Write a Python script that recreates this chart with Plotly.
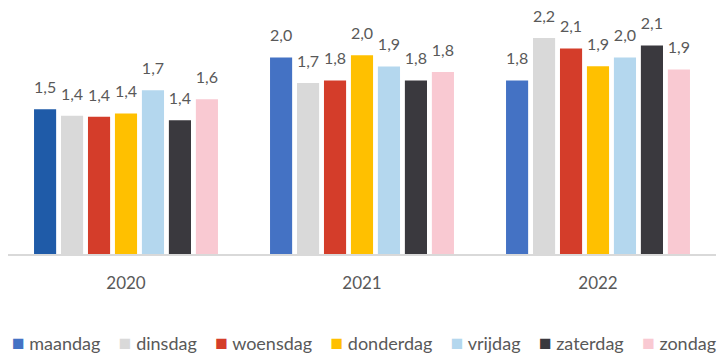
import plotly.graph_objects as go

years = ["2020", "2021", "2022"]
days = ["maandag", "dinsdag", "woensdag", "donderdag", "vrijdag", "zaterdag", "zondag"]

# average value per weekday, per year
maandag = [1.466, 1.989, 1.756]
dinsdag = [1.399, 1.732, 2.187]
woensdag = [1.388, 1.756, 2.080]
donderdag = [1.423, 2.012, 1.901]
vrijdag = [1.658, 1.898, 1.989]
zaterdag = [1.355, 1.756, 2.110]
zondag = [1.567, 1.843, 1.868]

series = [maandag, dinsdag, woensdag, donderdag, vrijdag, zaterdag, zondag]
colors = [
    ["#1f5ba8", "#4472c4", "#4472c4"],
    "#d9d9d9",
    "#d43d2a",
    "#ffc000",
    "#b4d7ee",
    "#3a393e",
    "#f9c9d2",
]
legend_colors = ["#4472c4", "#d9d9d9", "#d43d2a", "#ffc000", "#b4d7ee", "#3a393e", "#f9c9d2"]

font_family = "Lato, 'Open Sans', sans-serif"
text_grey = "#595959"
GAP = 0.2

fig = go.Figure()
for name, vals, col in zip(days, series, colors):
    fig.add_trace(go.Bar(
        name=name,
        x=years,
        y=vals,
        marker=dict(color=col, line=dict(width=0)),
        showlegend=False,
        hovertemplate="%{x} " + name + ": %{y:.1f}<extra></extra>",
    ))

# value labels, grouped the same way as the bars and lifted a little above them
for name, vals in zip(days, series):
    fig.add_trace(go.Scatter(
        name=name,
        x=years,
        y=vals,
        mode="markers+text",
        marker=dict(size=18, color="rgba(0,0,0,0)"),
        texttemplate="%{y:.1f}",
        textposition="top center",
        textfont=dict(size=16, color=text_grey, family=font_family),
        cliponaxis=False,
        showlegend=False,
        hoverinfo="skip",
    ))

# compact one-line legend: coloured square followed by the weekday name
legend_text = "&nbsp;&nbsp;&nbsp;&nbsp;".join(
    f"<span style='color:{c};font-size:21px'>■</span>&nbsp;{n}"
    for n, c in zip(days, legend_colors)
)
fig.add_annotation(
    text=legend_text,
    xref="paper",
    yref="paper",
    x=0.503,
    y=-0.356,
    xanchor="center",
    yanchor="middle",
    showarrow=False,
    font=dict(size=18, color=text_grey, family=font_family),
)

fig.update_layout(
    width=721,
    height=353,
    margin=dict(l=8, r=5, t=7, b=99, autoexpand=False),
    paper_bgcolor="white",
    plot_bgcolor="white",
    barmode="group",
    bargap=GAP,
    bargroupgap=0.18,
    scattermode="group",
    scattergap=GAP,
    separators=",.",
    showlegend=False,
    font=dict(family=font_family, color=text_grey),
    xaxis=dict(
        showgrid=False,
        showline=True,
        linecolor="#d9d9d9",
        linewidth=2,
        ticks="",
        tickfont=dict(size=17, color=text_grey, family=font_family),
        ticklabelstandoff=13,
    ),
    yaxis=dict(
        range=[0, 2.5],
        visible=False,
        showgrid=False,
        zeroline=False,
    ),
)

fig.write_html("out.html")
